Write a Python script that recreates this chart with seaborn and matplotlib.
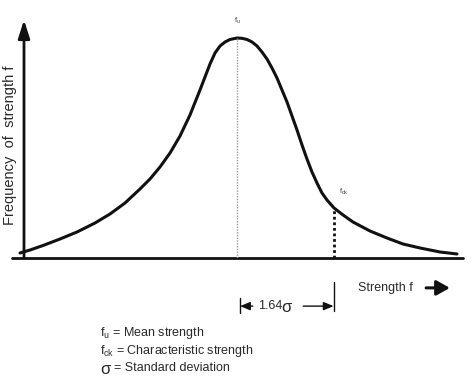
import matplotlib
matplotlib.use('Agg')
import pandas as pd
import seaborn as sns
import matplotlib.pyplot as plt

# strength (arbitrary units) vs frequency
strength = [-0.91, 1.37, 4.33, 8.20, 12.07, 16.17, 19.59, 23.01, 26.42, 28.70,
            30.98, 33.26, 35.54, 37.81, 40.09, 42.37, 43.51, 44.65, 45.79, 46.92,
            48.52, 49.66, 50.80, 51.94, 53.08, 54.21, 55.35, 56.49, 57.63, 58.77,
            59.91, 61.05, 62.19, 63.33, 64.46, 65.60, 66.74, 67.88, 69.02, 70.62,
            72.67, 74.94, 78.82, 82.69, 86.33, 90.21, 94.76, 98.63]
frequency = [2.06, 3.29, 5.14, 7.82, 10.70, 14.40, 18.11, 22.63, 28.40, 32.51,
             37.45, 43.21, 50.21, 58.85, 69.14, 79.84, 84.36, 87.24, 88.89, 89.92,
             90.53, 90.41, 89.92, 88.89, 87.24, 84.77, 81.89, 78.19, 74.07, 69.14,
             64.20, 58.44, 52.67, 46.50, 40.74, 35.39, 30.86, 26.75, 23.87, 20.58,
             17.70, 14.81, 11.11, 8.23, 5.76, 4.12, 2.47, 1.65]
f_mean = 48.52
f_mean_height = 90.53
f_ck = 70.62
f_ck_height = 20.58

legend_lines = ["f$_{\\mathrm{u}}$ = Mean strength",
                "f$_{\\mathrm{ck}}$ = Characteristic strength",
                "= Standard deviation"]

sns.set_style("white")
plt.rcParams['font.family'] = ['Liberation Sans', 'DejaVu Sans']
plt.rcParams['mathtext.fontset'] = 'custom'
plt.rcParams['mathtext.rm'] = 'Liberation Sans'
plt.rcParams['mathtext.it'] = 'Liberation Sans:italic'

df = pd.DataFrame({"strength": strength, "frequency": frequency})

fig = plt.figure(figsize=(4.72, 3.88), dpi=100)
ax = fig.add_axes([24 / 472, 130 / 388, 439 / 472, 243 / 388])
sns.lineplot(data=df, x="strength", y="frequency", color="#111111", lw=2.2,
             ax=ax, clip_on=False)
ax.lines[0].set_solid_joinstyle("round")
ax.set_xlim(0, 100)
ax.set_ylim(0, 100)
ax.axis("off")

txt = "#2a2a2a"

# axes
ax.plot([-2.7, 100], [0, 0], color="#111111", lw=2, clip_on=False)
ax.annotate("", xy=(0, 98), xytext=(0, 0),
            arrowprops=dict(arrowstyle="-|>,head_length=1.1,head_width=0.35",
                            color="#111111", lw=2, shrinkA=0, shrinkB=0),
            annotation_clip=False)

# mean and characteristic strength markers
ax.plot([f_mean, f_mean], [0, f_mean_height], color="#9a9a9a", lw=1,
        linestyle=(0, (1, 1)))
ax.plot([f_ck, f_ck], [0, f_ck_height], color="#111111", lw=2,
        linestyle=(0, (1, 1)))
ax.text(f_mean, 97.5, "f$_{\\mathrm{u}}$", fontsize=5.5, ha="center", va="center",
        color="#444444")
ax.text(f_ck + 2.2, 27, "f$_{\\mathrm{ck}}$", fontsize=5.5, ha="center", va="center",
        color="#444444")

# 1.64 sigma dimension
arr_y = -19.8
ax.plot([f_mean + 0.6, f_mean + 0.6], [-16.5, -22.5], color="#111111", lw=1,
        clip_on=False)
ax.plot([f_ck, f_ck], [-10, -21.8], color="#111111", lw=1, clip_on=False)
ax.annotate("", xy=(f_mean + 0.7, arr_y), xytext=(f_mean + 3.6, arr_y),
            arrowprops=dict(arrowstyle="-|>,head_length=0.6,head_width=0.25",
                            color="#111111", lw=1, shrinkA=0, shrinkB=0),
            annotation_clip=False)
ax.annotate("", xy=(f_ck - 0.1, arr_y), xytext=(63.6, arr_y),
            arrowprops=dict(arrowstyle="-|>,head_length=0.6,head_width=0.25",
                            color="#111111", lw=1, shrinkA=0, shrinkB=0),
            annotation_clip=False)
ax.text(53.4, arr_y, "1.64", fontsize=9, ha="left", va="center", color=txt)
ax.text(58.6, arr_y - 0.4, "σ", fontsize=12, ha="left", va="center", color=txt)

# x label with arrow
ax.text(76.0, -12.3, "Strength f", fontsize=9, ha="left", va="center", color=txt)
ax.annotate("", xy=(97.0, -12.3), xytext=(91.6, -12.3),
            arrowprops=dict(arrowstyle="-|>,head_length=0.8,head_width=0.45",
                            color="#111111", lw=2.2, shrinkA=0, shrinkB=0),
            annotation_clip=False)

# y label
ax.text(-3.2, 46.5, "Frequency  of  strength f", fontsize=10.5, rotation=90,
        ha="center", va="center", color=txt)

# legend text
for i, line in enumerate(legend_lines):
    y = -30.9 - 7.2 * i
    if i == 2:
        ax.text(17.3, y - 0.4, "σ", fontsize=12, ha="left", va="center", color=txt)
        ax.text(20.6, y, line, fontsize=9, ha="left", va="center", color=txt)
    else:
        ax.text(17.3, y, line, fontsize=9, ha="left", va="center", color=txt)

fig.savefig("out.png", dpi=100)
